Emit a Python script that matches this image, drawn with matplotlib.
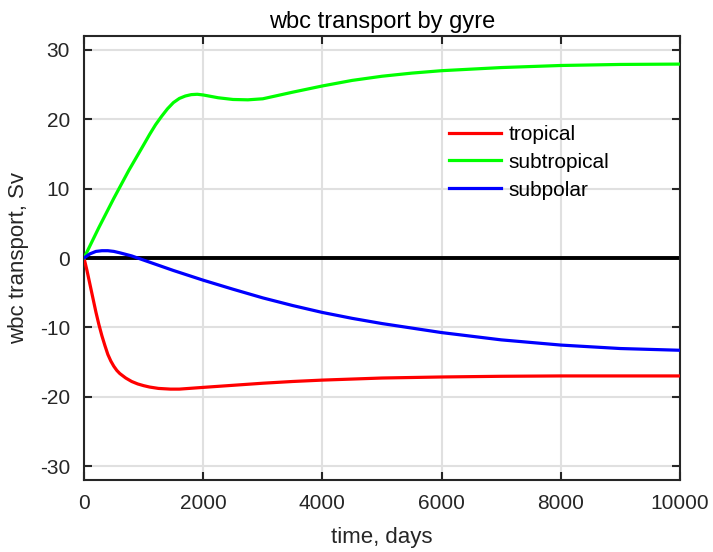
import numpy as np
import matplotlib
matplotlib.use("Agg")
import matplotlib.pyplot as plt

plt.rcParams["font.family"] = ["Liberation Sans", "DejaVu Sans"]
plt.rcParams["axes.unicode_minus"] = False

# time (days) and western boundary current transport (Sv) per gyre
t_trop = [0, 50, 100, 150, 200, 250, 300, 350, 400, 450, 500, 550, 600, 700, 800, 900,
          1000, 1100, 1250, 1450, 1600, 2000, 2500, 3000, 3500, 4000, 5000, 6000, 7000,
          8000, 9000, 10000]
tropical = [0, -1.8, -3.8, -5.8, -7.8, -9.6, -11.2, -12.6, -13.9, -14.85, -15.6, -16.2,
            -16.65, -17.3, -17.8, -18.15, -18.4, -18.6, -18.8, -18.9, -18.9, -18.65,
            -18.35, -18.05, -17.8, -17.6, -17.3, -17.15, -17.05, -17.0, -17.0, -17.0]

t_sub = [0, 250, 500, 750, 1000, 1100, 1200, 1300, 1400, 1500, 1600, 1700, 1800, 1900,
         2000, 2250, 2500, 2750, 3000, 3500, 4000, 4500, 5000, 5500, 6000, 7000, 8000,
         9000, 10000]
subtropical = [0, 4.4, 8.6, 12.6, 16.3, 17.8, 19.2, 20.4, 21.5, 22.4, 23.0, 23.35,
               23.55, 23.6, 23.5, 23.1, 22.85, 22.8, 22.95, 23.9, 24.8, 25.6, 26.2,
               26.65, 27.0, 27.45, 27.75, 27.9, 27.95]

t_pol = [0, 100, 200, 300, 400, 500, 600, 800, 1000, 1250, 1500, 2000, 2500, 3000,
         3500, 4000, 4500, 5000, 6000, 7000, 8000, 9000, 10000]
subpolar = [0, 0.6, 0.95, 1.05, 1.05, 0.95, 0.75, 0.3, -0.3, -1.05, -1.8, -3.2, -4.5,
            -5.75, -6.85, -7.85, -8.7, -9.45, -10.75, -11.8, -12.55, -13.05, -13.3]

fig = plt.figure(figsize=(7.13, 5.52), dpi=100)
ax = fig.add_axes([84 / 713, 1 - 480 / 552, 596 / 713, 444 / 552])

ax.axhline(0, color="black", lw=2.8, zorder=2)
ax.plot(t_trop, tropical, color="#ff0000", lw=2.3, label="tropical", zorder=3)
ax.plot(t_sub, subtropical, color="#00ff00", lw=2.3, label="subtropical", zorder=3)
ax.plot(t_pol, subpolar, color="#0000ff", lw=2.3, label="subpolar", zorder=3)

ax.set_xlim(0, 10000)
ax.set_ylim(-32, 32)
ax.set_xticks(np.arange(0, 10001, 2000))
ax.set_yticks(np.arange(-30, 31, 10))
ax.grid(True, color="#e0e0e0", lw=1.5)
ax.set_axisbelow(True)

for s in ax.spines.values():
    s.set_color("#262626")
    s.set_linewidth(1.5)
ax.tick_params(direction="in", length=6, width=1.5, color="#262626",
               labelsize=15, labelcolor="#262626", top=True, right=True, pad=10)

ax.set_xlabel("time, days", fontsize=16, color="#262626", labelpad=10)
ax.set_ylabel("wbc transport, Sv", fontsize=16, color="#262626", labelpad=8)
ax.set_title("wbc transport by gyre", fontsize=17, color="black", pad=6)

ax.legend(loc="upper left", bbox_to_anchor=(0.613, 0.80), frameon=False,
          fontsize=15, handlelength=2.5, handletextpad=0.35, labelspacing=0.43,
          borderaxespad=0, borderpad=0)

fig.savefig("out.png", dpi=100)
